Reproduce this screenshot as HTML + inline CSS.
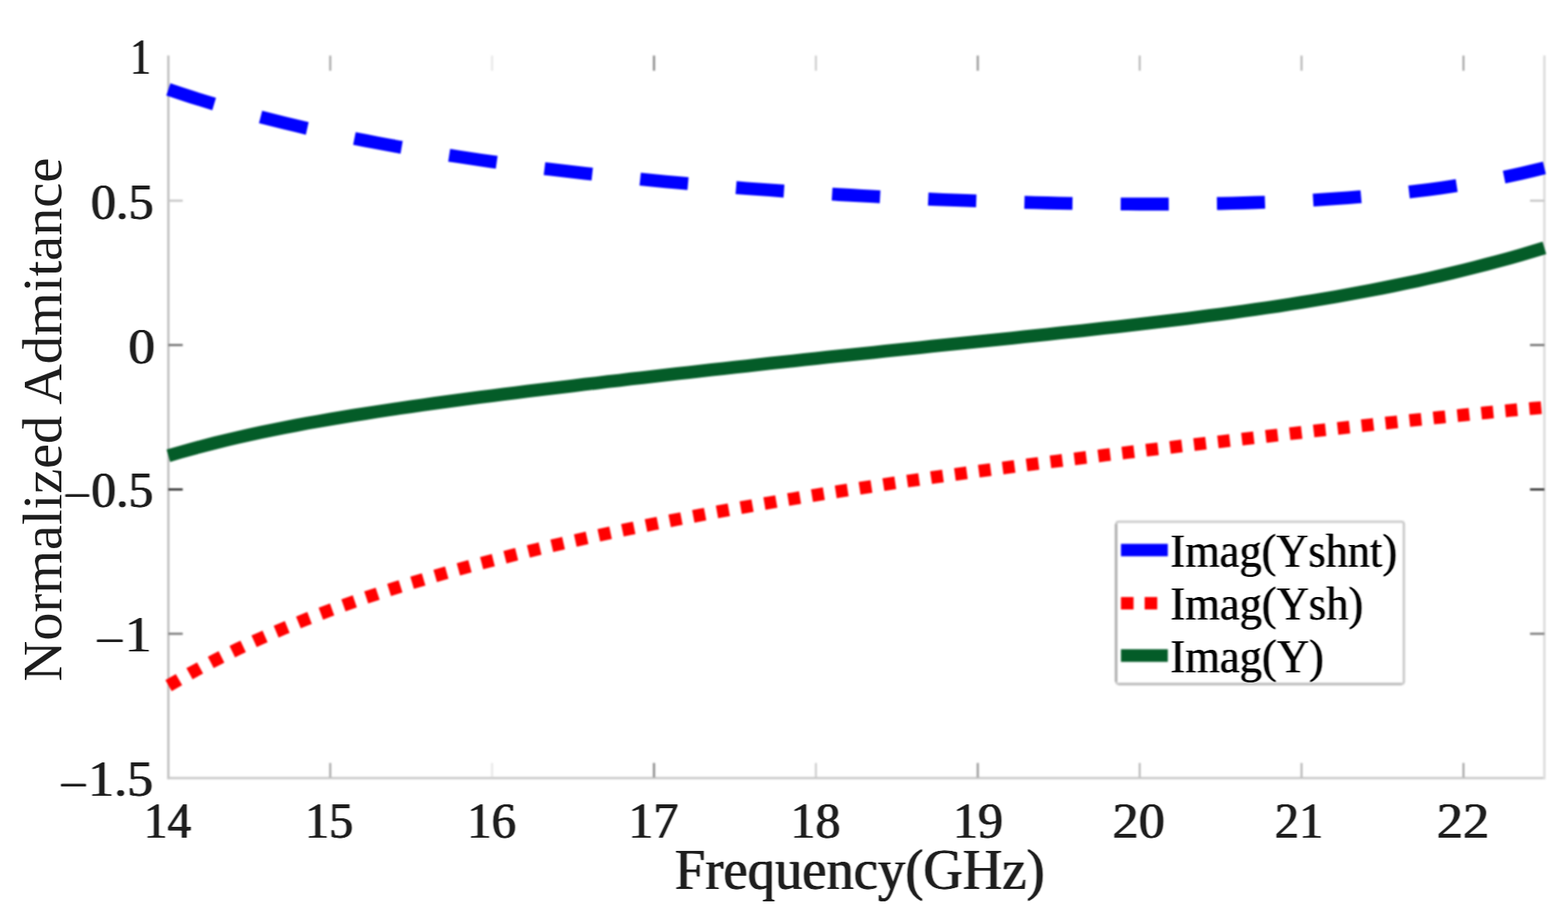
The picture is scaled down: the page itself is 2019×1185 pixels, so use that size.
<!DOCTYPE html>
<html lang="en"><head><meta charset="utf-8"><title>Normalized Admitance vs Frequency</title>
<style>html,body{margin:0;padding:0;background:#fff;overflow:hidden}svg{display:block}text{font-family:"Liberation Serif","Times New Roman",Times,serif;fill:#1e1e1e}</style>
</head><body>
<svg width="2019" height="1185" viewBox="0 0 2019 1185">
<rect x="0" y="0" width="2019" height="1185" fill="#ffffff"/>
<defs>
<filter id="fl" x="0" y="0" width="2019" height="1185" filterUnits="userSpaceOnUse" color-interpolation-filters="sRGB"><feGaussianBlur stdDeviation="0.8"/></filter>
<filter id="ft" x="0" y="0" width="2019" height="1185" filterUnits="userSpaceOnUse" color-interpolation-filters="sRGB"><feGaussianBlur stdDeviation="1.2 0.6"/><feComponentTransfer><feFuncA type="linear" slope="1.6" intercept="0"/></feComponentTransfer></filter>
<filter id="fg" x="0" y="0" width="2019" height="1185" filterUnits="userSpaceOnUse" color-interpolation-filters="sRGB"><feGaussianBlur stdDeviation="0.8 0.4"/><feComponentTransfer><feFuncA type="linear" slope="1.3" intercept="0"/></feComponentTransfer></filter>
<filter id="fy" x="0" y="0" width="2019" height="1185" filterUnits="userSpaceOnUse" color-interpolation-filters="sRGB"><feGaussianBlur stdDeviation="0.55 0.7"/></filter>
</defs>
<g filter="url(#fl)">
<g fill="none" stroke-linecap="butt">
<line x1="216.8" y1="71.6" x2="216.8" y2="1003.6" stroke="#bcbcbc" stroke-width="2.8"/>
<line x1="215.4" y1="1002.2" x2="1990.0" y2="1002.2" stroke="#c6c6c6" stroke-width="2.8"/>
<line x1="1988.6" y1="71.6" x2="1988.6" y2="1003.6" stroke="#dedede" stroke-width="3.2"/>
<line x1="425.2" y1="1001.2" x2="425.2" y2="982.7" stroke="#adadad" stroke-width="2.8"/>
<line x1="425.2" y1="71.6" x2="425.2" y2="91.1" stroke="#adadad" stroke-width="2.8"/>
<line x1="633.7" y1="1001.2" x2="633.7" y2="982.7" stroke="#e8e8e8" stroke-width="2.8"/>
<line x1="633.7" y1="71.6" x2="633.7" y2="91.1" stroke="#e8e8e8" stroke-width="2.8"/>
<line x1="842.1" y1="1001.2" x2="842.1" y2="982.7" stroke="#8b8b8b" stroke-width="2.8"/>
<line x1="842.1" y1="71.6" x2="842.1" y2="91.1" stroke="#8b8b8b" stroke-width="2.8"/>
<line x1="1050.6" y1="1001.2" x2="1050.6" y2="982.7" stroke="#d2d2d2" stroke-width="2.8"/>
<line x1="1050.6" y1="71.6" x2="1050.6" y2="91.1" stroke="#d2d2d2" stroke-width="2.8"/>
<line x1="1259.0" y1="1001.2" x2="1259.0" y2="982.7" stroke="#9c9c9c" stroke-width="2.8"/>
<line x1="1259.0" y1="71.6" x2="1259.0" y2="91.1" stroke="#9c9c9c" stroke-width="2.8"/>
<line x1="1467.5" y1="1001.2" x2="1467.5" y2="982.7" stroke="#bfbfbf" stroke-width="2.8"/>
<line x1="1467.5" y1="71.6" x2="1467.5" y2="91.1" stroke="#bfbfbf" stroke-width="2.8"/>
<line x1="1675.9" y1="1001.2" x2="1675.9" y2="982.7" stroke="#bbbbbb" stroke-width="2.8"/>
<line x1="1675.9" y1="71.6" x2="1675.9" y2="91.1" stroke="#bbbbbb" stroke-width="2.8"/>
<line x1="1884.4" y1="1001.2" x2="1884.4" y2="982.7" stroke="#adadad" stroke-width="2.8"/>
<line x1="1884.4" y1="71.6" x2="1884.4" y2="91.1" stroke="#adadad" stroke-width="2.8"/>
<line x1="216.8" y1="258.5" x2="235.3" y2="258.5" stroke="#c8c8c8" stroke-width="2.8"/>
<line x1="1988.6" y1="258.5" x2="1970.1" y2="258.5" stroke="#c8c8c8" stroke-width="2.8"/>
<line x1="216.8" y1="444.4" x2="235.3" y2="444.4" stroke="#757575" stroke-width="2.8"/>
<line x1="1988.6" y1="444.4" x2="1970.1" y2="444.4" stroke="#757575" stroke-width="2.8"/>
<line x1="216.8" y1="630.4" x2="235.3" y2="630.4" stroke="#2f2f2f" stroke-width="2.8"/>
<line x1="1988.6" y1="630.4" x2="1970.1" y2="630.4" stroke="#2f2f2f" stroke-width="2.8"/>
<line x1="216.8" y1="816.3" x2="235.3" y2="816.3" stroke="#7e7e7e" stroke-width="2.8"/>
<line x1="1988.6" y1="816.3" x2="1970.1" y2="816.3" stroke="#7e7e7e" stroke-width="2.8"/>
</g>
<g fill="none" stroke-linecap="butt" stroke-linejoin="round">
<path d="M216.8 115.1 L231.7 120.2 L246.6 125.0 L261.5 129.7 L276.4 134.2 L291.2 138.5 L306.1 142.7 L321.0 146.8 L335.9 150.7 L350.8 154.5 L365.7 158.2 L380.6 161.8 L395.5 165.3 L410.4 168.6 L425.2 171.8 L440.1 175.0 L455.0 178.0 L469.9 181.0 L484.8 183.8 L499.7 186.6 L514.6 189.3 L529.5 191.9 L544.4 194.4 L559.2 196.9 L574.1 199.3 L589.0 201.6 L603.9 203.9 L618.8 206.1 L633.7 208.2 L648.6 210.3 L663.5 212.3 L678.4 214.3 L693.3 216.2 L708.1 218.0 L723.0 219.8 L737.9 221.6 L752.8 223.3 L767.7 224.9 L782.6 226.5 L797.5 228.1 L812.4 229.6 L827.3 231.1 L842.1 232.5 L857.0 233.9 L871.9 235.3 L886.8 236.6 L901.7 237.9 L916.6 239.1 L931.5 240.3 L946.4 241.5 L961.3 242.7 L976.1 243.8 L991.0 244.8 L1005.9 245.9 L1020.8 246.9 L1035.7 247.8 L1050.6 248.8 L1065.5 249.7 L1080.4 250.6 L1095.3 251.4 L1110.1 252.3 L1125.0 253.0 L1139.9 253.8 L1154.8 254.5 L1169.7 255.2 L1184.6 255.9 L1199.5 256.6 L1214.4 257.2 L1229.3 257.8 L1244.1 258.3 L1259.0 258.8 L1273.9 259.3 L1288.8 259.8 L1303.7 260.2 L1318.6 260.6 L1333.5 261.0 L1348.4 261.4 L1363.3 261.7 L1378.1 262.0 L1393.0 262.2 L1407.9 262.4 L1422.8 262.6 L1437.7 262.7 L1452.6 262.8 L1467.5 262.9 L1482.4 262.9 L1497.3 262.9 L1512.1 262.8 L1527.0 262.7 L1541.9 262.5 L1556.8 262.3 L1571.7 262.1 L1586.6 261.7 L1601.5 261.4 L1616.4 260.9 L1631.3 260.4 L1646.2 259.8 L1661.0 259.2 L1675.9 258.5 L1690.8 257.7 L1705.7 256.8 L1720.6 255.8 L1735.5 254.8 L1750.4 253.6 L1765.3 252.3 L1780.2 250.9 L1795.0 249.5 L1809.9 247.8 L1824.8 246.1 L1839.7 244.2 L1854.6 242.2 L1869.5 240.0 L1884.4 237.7 L1899.3 235.2 L1914.2 232.6 L1929.0 229.7 L1943.9 226.7 L1958.8 223.4 L1973.7 219.9 L1988.6 216.3" stroke="#0000ff" stroke-width="16.6" stroke-dasharray="61.9 62.05"/>
<path d="M216.8 587.0 L231.7 582.6 L246.6 578.4 L261.5 574.4 L276.4 570.6 L291.2 567.0 L306.1 563.5 L321.0 560.2 L335.9 556.9 L350.8 553.9 L365.7 550.9 L380.6 548.0 L395.5 545.2 L410.4 542.6 L425.2 540.0 L440.1 537.5 L455.0 535.0 L469.9 532.7 L484.8 530.4 L499.7 528.1 L514.6 525.9 L529.5 523.7 L544.4 521.6 L559.2 519.6 L574.1 517.5 L589.0 515.5 L603.9 513.6 L618.8 511.6 L633.7 509.7 L648.6 507.8 L663.5 506.0 L678.4 504.1 L693.3 502.3 L708.1 500.5 L723.0 498.7 L737.9 496.9 L752.8 495.1 L767.7 493.4 L782.6 491.6 L797.5 489.9 L812.4 488.1 L827.3 486.4 L842.1 484.7 L857.0 483.0 L871.9 481.3 L886.8 479.7 L901.7 478.0 L916.6 476.3 L931.5 474.7 L946.4 473.0 L961.3 471.4 L976.1 469.8 L991.0 468.1 L1005.9 466.5 L1020.8 464.9 L1035.7 463.3 L1050.6 461.7 L1065.5 460.1 L1080.4 458.6 L1095.3 457.0 L1110.1 455.4 L1125.0 453.9 L1139.9 452.3 L1154.8 450.8 L1169.7 449.2 L1184.6 447.7 L1199.5 446.1 L1214.4 444.6 L1229.3 443.1 L1244.1 441.5 L1259.0 440.0 L1273.9 438.5 L1288.8 436.9 L1303.7 435.4 L1318.6 433.8 L1333.5 432.2 L1348.4 430.7 L1363.3 429.1 L1378.1 427.5 L1393.0 425.9 L1407.9 424.3 L1422.8 422.6 L1437.7 421.0 L1452.6 419.3 L1467.5 417.6 L1482.4 415.8 L1497.3 414.1 L1512.1 412.3 L1527.0 410.4 L1541.9 408.6 L1556.8 406.6 L1571.7 404.7 L1586.6 402.7 L1601.5 400.6 L1616.4 398.5 L1631.3 396.4 L1646.2 394.2 L1661.0 391.9 L1675.9 389.5 L1690.8 387.1 L1705.7 384.6 L1720.6 382.1 L1735.5 379.4 L1750.4 376.7 L1765.3 373.9 L1780.2 371.0 L1795.0 368.0 L1809.9 364.9 L1824.8 361.8 L1839.7 358.5 L1854.6 355.1 L1869.5 351.6 L1884.4 348.0 L1899.3 344.3 L1914.2 340.4 L1929.0 336.5 L1943.9 332.4 L1958.8 328.2 L1973.7 323.8 L1988.6 319.3" stroke="#045c28" stroke-width="16.6"/>
<path d="M216.8 883.3 L231.7 874.7 L246.6 866.3 L261.5 858.3 L276.4 850.6 L291.2 843.1 L306.1 835.9 L321.0 828.9 L335.9 822.1 L350.8 815.6 L365.7 809.3 L380.6 803.2 L395.5 797.2 L410.4 791.5 L425.2 785.9 L440.1 780.5 L455.0 775.2 L469.9 770.1 L484.8 765.2 L499.7 760.3 L514.6 755.6 L529.5 751.0 L544.4 746.6 L559.2 742.2 L574.1 737.9 L589.0 733.8 L603.9 729.7 L618.8 725.7 L633.7 721.9 L648.6 718.1 L663.5 714.3 L678.4 710.7 L693.3 707.1 L708.1 703.6 L723.0 700.2 L737.9 696.8 L752.8 693.5 L767.7 690.2 L782.6 687.0 L797.5 683.9 L812.4 680.8 L827.3 677.8 L842.1 674.8 L857.0 671.9 L871.9 669.0 L886.8 666.2 L901.7 663.4 L916.6 660.6 L931.5 657.9 L946.4 655.2 L961.3 652.6 L976.1 650.0 L991.0 647.5 L1005.9 644.9 L1020.8 642.5 L1035.7 640.0 L1050.6 637.6 L1065.5 635.2 L1080.4 632.9 L1095.3 630.6 L1110.1 628.3 L1125.0 626.1 L1139.9 623.8 L1154.8 621.6 L1169.7 619.5 L1184.6 617.4 L1199.5 615.2 L1214.4 613.2 L1229.3 611.1 L1244.1 609.1 L1259.0 607.1 L1273.9 605.1 L1288.8 603.1 L1303.7 601.2 L1318.6 599.2 L1333.5 597.3 L1348.4 595.4 L1363.3 593.6 L1378.1 591.7 L1393.0 589.9 L1407.9 588.1 L1422.8 586.2 L1437.7 584.5 L1452.6 582.7 L1467.5 580.9 L1482.4 579.1 L1497.3 577.4 L1512.1 575.6 L1527.0 573.9 L1541.9 572.2 L1556.8 570.5 L1571.7 568.8 L1586.6 567.1 L1601.5 565.4 L1616.4 563.7 L1631.3 562.0 L1646.2 560.3 L1661.0 558.6 L1675.9 557.0 L1690.8 555.3 L1705.7 553.6 L1720.6 552.0 L1735.5 550.3 L1750.4 548.7 L1765.3 547.1 L1780.2 545.4 L1795.0 543.8 L1809.9 542.2 L1824.8 540.6 L1839.7 539.1 L1854.6 537.5 L1869.5 536.0 L1884.4 534.5 L1899.3 533.0 L1914.2 531.5 L1929.0 530.1 L1943.9 528.7 L1958.8 527.3 L1973.7 526.0 L1988.6 524.7" stroke="#ff0000" stroke-width="16.4" stroke-dasharray="15.5 15.52" stroke-dashoffset="-0.3"/>
</g>
<rect x="1437.3" y="672.0" width="370.4" height="209.1" rx="3" ry="3" fill="#ffffff" stroke="#cccccc" stroke-width="3.2"/>
<line x1="1437.1" y1="675.0" x2="1437.1" y2="878.1" stroke="#b4b4b4" stroke-width="3.4"/>
<line x1="1440.3" y1="881.1" x2="1804.7" y2="881.1" stroke="#c2c2c2" stroke-width="3.2"/>
<g fill="none" stroke-width="16.2">
<line x1="1443.4" y1="708.5" x2="1503.7" y2="708.5" stroke="#0000ff"/>
<line x1="1443.4" y1="777" x2="1503.7" y2="777" stroke="#ff0000" stroke-dasharray="16.2 14.3"/>
<line x1="1443.4" y1="844.4" x2="1503.7" y2="844.4" stroke="#045c28"/>
</g>
</g>
<g filter="url(#ft)">
<text transform="translate(167.71 95.40) scale(0.8000 1)" font-size="66.0">1</text>
<text transform="translate(116.91 282.20) scale(0.9803 1)" font-size="66.0">0.5</text>
<text transform="translate(165.15 468.30) scale(1.0426 1)" font-size="66.0">0</text>
<text transform="translate(81.51 652.50) scale(0.9678 1)" font-size="66.0"><tspan dy="7.5">−</tspan><tspan dy="-7.5">0.5</tspan></text>
<text transform="translate(122.06 839.30) scale(1.0415 1)" font-size="66.0"><tspan dy="7.5">−</tspan><tspan dy="-7.5">1</tspan></text>
<text transform="translate(75.76 1025.10) scale(1.0133 1)" font-size="66.0"><tspan dy="7.5">−</tspan><tspan dy="-7.5">1.5</tspan></text>
<text transform="translate(185.33 1079.40) scale(0.9210 1)" font-size="66.0">14</text>
<text transform="translate(392.70 1079.40) scale(0.9422 1)" font-size="66.0">15</text>
<text transform="translate(601.42 1079.40) scale(0.9556 1)" font-size="66.0">16</text>
<text transform="translate(808.89 1079.40) scale(0.9780 1)" font-size="66.0">17</text>
<text transform="translate(1017.70 1079.40) scale(0.9770 1)" font-size="66.0">18</text>
<text transform="translate(1226.88 1079.40) scale(0.9805 1)" font-size="66.0">19</text>
<text transform="translate(1432.51 1079.40) scale(1.0194 1)" font-size="66.0">20</text>
<text transform="translate(1641.61 1079.40) scale(0.9428 1)" font-size="66.0">21</text>
<text transform="translate(1849.99 1079.40) scale(1.0269 1)" font-size="66.0">22</text>
<text transform="translate(869.09 1145.00) scale(0.9434 1)" font-size="74.5">Frequency(GHz)</text>
</g>
<g filter="url(#fy)">
<text transform="translate(79.30 877.68) rotate(-90) scale(1.0144 1)" font-size="71.5">Normalized Admitance</text>
</g>
<g filter="url(#fg)">
<text transform="translate(1507.12 730.10) scale(0.9333 1)" font-size="61.2" style="fill:#050505">Imag(Yshnt)</text>
<text transform="translate(1507.11 798.40) scale(0.9366 1)" font-size="61.2" style="fill:#050505">Imag(Ysh)</text>
<text transform="translate(1507.10 865.80) scale(0.9381 1)" font-size="61.2" style="fill:#050505">Imag(Y)</text>
</g>
</svg>
</body></html>
